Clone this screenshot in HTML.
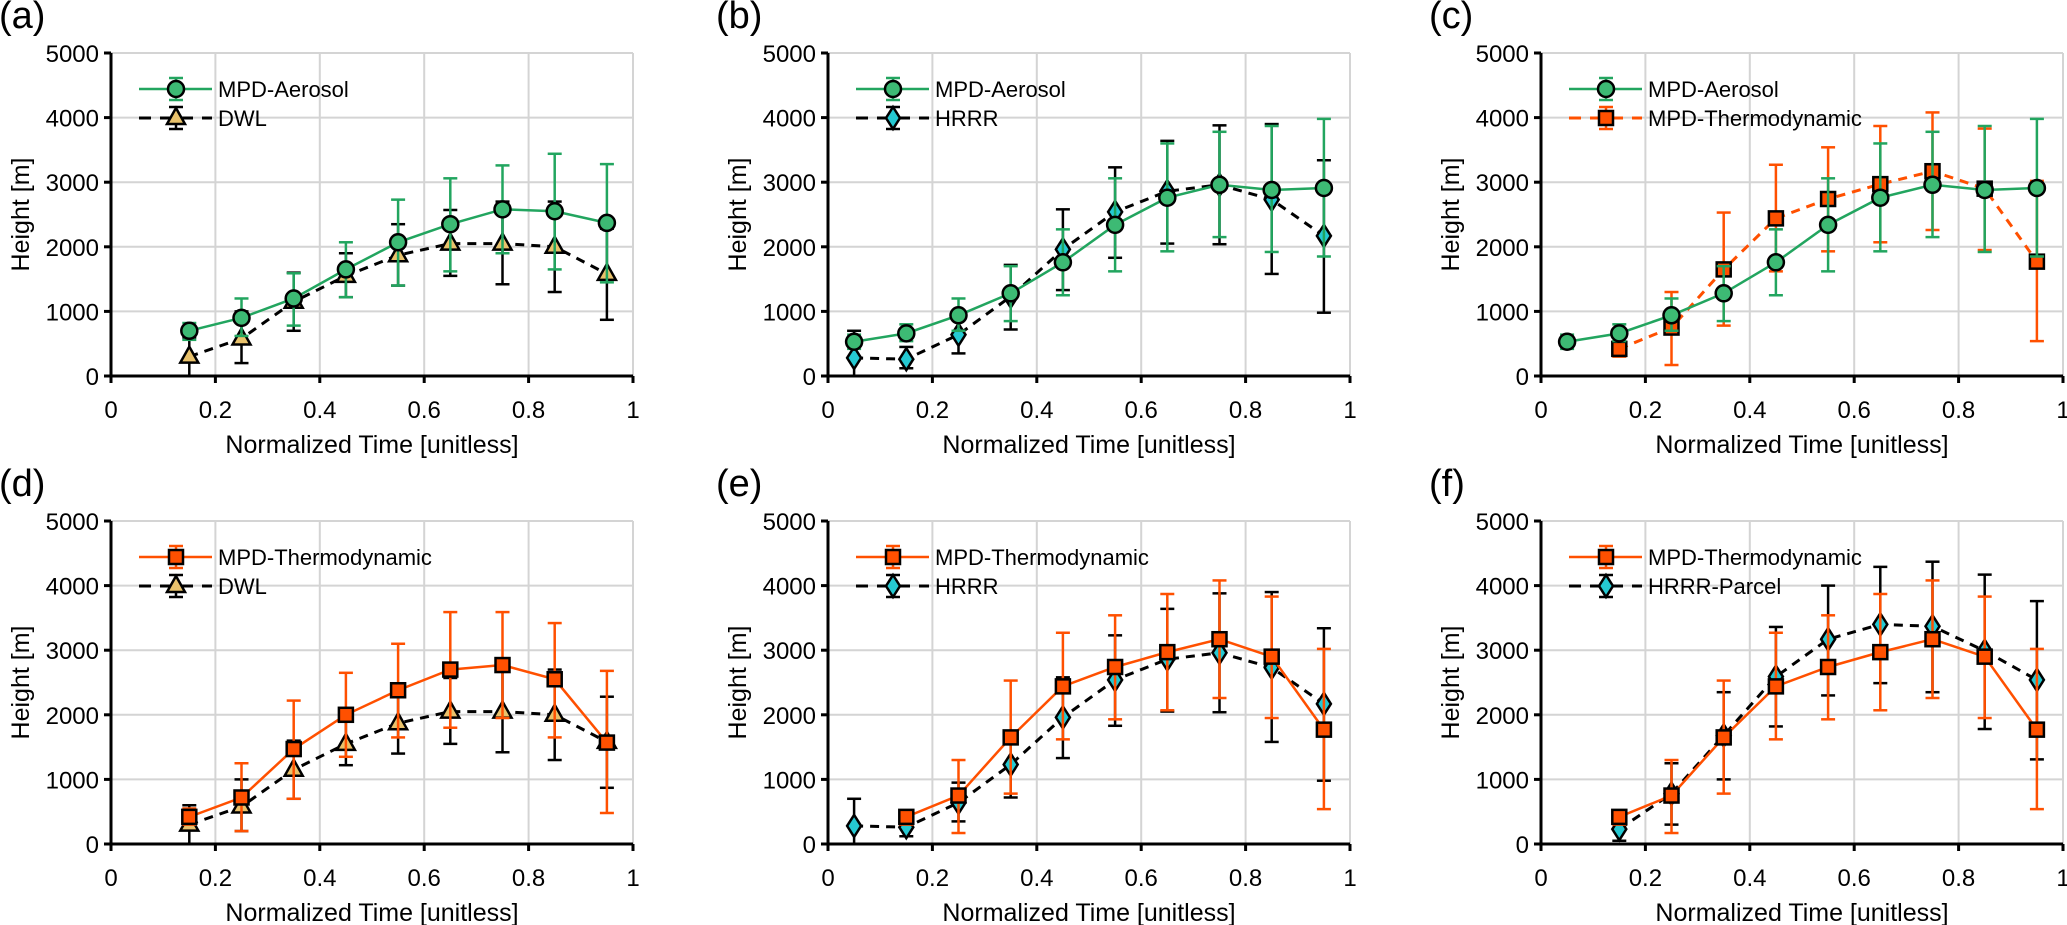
<!DOCTYPE html>
<html><head><meta charset="utf-8">
<style>
html,body{margin:0;padding:0;background:#fff;}
svg{display:block;font-family:"Liberation Sans",Arial,sans-serif;}
</style></head>
<body>
<svg id="fig" width="2067" height="925" viewBox="0 0 2067 925" xmlns="http://www.w3.org/2000/svg"></svg>
<script>
// ---- data ----
const xAll = [0.05,0.15,0.25,0.35,0.45,0.55,0.65,0.75,0.85,0.95];
const x9 = [0.15,0.25,0.35,0.45,0.55,0.65,0.75,0.85,0.95];
// MPD-Aerosol subset used with DWL (panel a)
const aerA = [700,900,1200,1650,2070,2350,2580,2550,2370];
const aerALo = [560,620,780,1220,1400,1620,1900,1650,1450];
const aerAHi = [820,1200,1590,2070,2730,3060,3260,3440,3280];
// DWL
const dwl = [300,580,1150,1550,1870,2050,2050,2000,1580];
const dwlLo = [0,200,700,1220,1400,1550,1420,1300,870];
const dwlHi = [600,1000,1600,1900,2350,2570,2700,2700,2280];
// MPD-Aerosol full (b, c)
const aerB = [530,660,940,1280,1760,2340,2760,2960,2880,2910];
const aerBLo = [420,540,700,850,1250,1620,1930,2150,1920,1850];
const aerBHi = [640,800,1200,1700,2270,3060,3600,3780,3870,3980];
// HRRR (b, e)
const hrrr = [280,260,640,1230,1960,2540,2860,2960,2730,2170];
const hrrrLo = [0,120,350,720,1330,1830,2050,2040,1580,980];
const hrrrHi = [700,450,950,1720,2580,3230,3640,3880,3900,3340];
// MPD-Thermodynamic (c, e, f)
const thC = [420,750,1650,2440,2740,2970,3170,2900,1770];
const thCLo = [300,170,780,1620,1930,2070,2260,1950,540];
const thCHi = [520,1300,2530,3270,3540,3870,4080,3830,3020];
// MPD-Thermodynamic subset (d)
const thD = [420,720,1470,2000,2380,2700,2770,2550,1570];
const thDLo = [300,200,700,1350,1650,1800,1950,1650,480];
const thDHi = [550,1250,2220,2650,3100,3590,3590,3420,2680];
// HRRR-Parcel (f)
const parcel = [230,780,1680,2590,3170,3400,3370,2990,2540];
const parcelLo = [50,300,1000,1820,2300,2490,2350,1780,1310];
const parcelHi = [400,1250,2350,3360,4000,4290,4370,4170,3760];
const xTicks = [0,0.2,0.4,0.6,0.8,1];
const xTickLabels = ["0","0.2","0.4","0.6","0.8","1"];
const yTicks = [0,1000,2000,3000,4000,5000];
const yTickLabels = ["0","1000","2000","3000","4000","5000"];

const NS="http://www.w3.org/2000/svg";
const svg=document.getElementById('fig');
function mk(tag,attrs,parent){const e=document.createElementNS(NS,tag);for(const k in attrs)e.setAttribute(k,attrs[k]);(parent||svg).appendChild(e);return e;}

const GREEN='#22a55f', GFILL='#3dba74', ORANGE='#ff5000', TRI='#e9c26c', DIA='#25c9d2';
const W=522, H=323;

const styles={
  aer:{name:'MPD-Aerosol',line:GREEN,dash:null,err:GREEN,marker:'circle',fill:GFILL},
  dwl:{name:'DWL',line:'#000',dash:'9,7',err:'#000',marker:'tri',fill:TRI},
  hrrr:{name:'HRRR',line:'#000',dash:'9,7',err:'#000',marker:'dia',fill:DIA},
  parcel:{name:'HRRR-Parcel',line:'#000',dash:'9,7',err:'#000',marker:'dia',fill:DIA},
  thS:{name:'MPD-Thermodynamic',line:ORANGE,dash:null,err:ORANGE,marker:'sq',fill:ORANGE},
  thD:{name:'MPD-Thermodynamic',line:ORANGE,dash:'9,7',err:ORANGE,marker:'sq',fill:ORANGE}
};

function marker(g,type,cx,cy,fill){
  let e;
  if(type==='circle') e=mk('circle',{cx:cx,cy:cy,r:8,fill:fill,stroke:'#000','stroke-width':2.5},g);
  else if(type==='sq') e=mk('rect',{x:cx-7,y:cy-7,width:14,height:14,fill:fill,stroke:'#000','stroke-width':2.5},g);
  else if(type==='tri') e=mk('polygon',{points:`${cx},${cy-10} ${cx-9},${cy+6} ${cx+9},${cy+6}`,fill:fill,stroke:'#000','stroke-width':2.5},g);
  else e=mk('polygon',{points:`${cx},${cy-11} ${cx+7},${cy} ${cx},${cy+11} ${cx-7},${cy}`,fill:fill,stroke:'#000','stroke-width':2.5},g);
  return e;
}

function drawSeries(g,sx,sy,st,xs,ys,lo,hi,key){
  const sg=mk('g',{},g);
  
  
  xs.forEach((x,i)=>{
    const px=sx(x);
    const eb=mk('g',{stroke:st.err,'stroke-width':2.5},sg);
    
    
    mk('line',{x1:px,x2:px,y1:sy(lo[i]),y2:sy(hi[i])},eb);
    mk('line',{x1:px-7,x2:px+7,y1:sy(lo[i]),y2:sy(lo[i])},eb);
    mk('line',{x1:px-7,x2:px+7,y1:sy(hi[i]),y2:sy(hi[i])},eb);
  });
  const pts=xs.map((x,i)=>sx(x)+','+sy(ys[i])).join(' ');
  const a={points:pts,fill:'none',stroke:st.line,'stroke-width':st.dash?3:2.5};
  if(st.dash)a['stroke-dasharray']=st.dash;
  const pl=mk('polyline',a,sg);
  
  
  xs.forEach((x,i)=>{
    const m=marker(sg,st.marker,sx(x),sy(ys[i]),st.fill);
    
    
  });
}

function legendEntry(g,x0,y,st,key){
  const lg=mk('g',{},g);
  
  
  const a={x1:x0+28,x2:x0+101,y1:y,y2:y,stroke:st.line,'stroke-width':st.dash?3:2.5};
  if(st.dash)a['stroke-dasharray']='12,9';
  mk('line',a,lg);
  const mx=x0+65;
  const eb=mk('g',{stroke:st.err,'stroke-width':2.5},lg);
  mk('line',{x1:mx,x2:mx,y1:y-11,y2:y+11},eb);
  mk('line',{x1:mx-7,x2:mx+7,y1:y-11,y2:y-11},eb);
  mk('line',{x1:mx-7,x2:mx+7,y1:y+11,y2:y+11},eb);
  marker(lg,st.marker,mx,y,st.fill);
  const t=mk('text',{x:x0+107,y:y+8,'font-size':22,fill:'#000'},lg);
  t.textContent=st.name;
}

function panel(label,x0,y0,series){
  const g=mk('g',{});
  
  
  const sx=v=>x0+v*W, sy=v=>y0+H-v/5000*H;
  const lab=mk('text',{x:x0-112,y:y0-25,'font-size':38,fill:'#000'},g);
  lab.textContent='('+label+')';
  
  
  const grid=mk('g',{stroke:'#d4d4d4','stroke-width':2},g);
  
  
  xTicks.forEach(t=>{ if(t>0) mk('line',{x1:sx(t),x2:sx(t),y1:sy(0),y2:sy(5000)},grid);});
  yTicks.forEach(t=>{ if(t>0) mk('line',{x1:sx(0),x2:sx(1),y1:sy(t),y2:sy(t)},grid);});
  const ax=mk('g',{stroke:'#000','stroke-width':3},g);
  
  
  mk('line',{x1:sx(0),x2:sx(0),y1:sy(0)+1.5,y2:sy(5000)},ax);
  mk('line',{x1:sx(0)-1.5,x2:sx(1),y1:sy(0),y2:sy(0)},ax);
  xTicks.forEach((t,i)=>{
    mk('line',{x1:sx(t),x2:sx(t),y1:sy(0),y2:sy(0)+7},ax);
    const tl=mk('text',{x:sx(t),y:sy(0)+42,'font-size':24,'text-anchor':'middle',fill:'#000'},g);
    tl.textContent=xTickLabels[i];
    
    
  });
  yTicks.forEach((t,i)=>{
    mk('line',{x1:sx(0)-7,x2:sx(0),y1:sy(t),y2:sy(t)},ax);
    const tl=mk('text',{x:sx(0)-12,y:sy(t)+9,'font-size':24,'text-anchor':'end',fill:'#000'},g);
    tl.textContent=yTickLabels[i];
    
    
  });
  const xt=mk('text',{x:sx(0.5),y:sy(0)+77,'font-size':25,'text-anchor':'middle',fill:'#000'},g);
  xt.textContent='Normalized Time [unitless]';
  
  
  const yt=mk('text',{x:0,y:0,'font-size':25,'text-anchor':'middle',fill:'#000',transform:`translate(${x0-82},${y0+H/2}) rotate(-90)`},g);
  yt.textContent='Height [m]';
  
  
  series.forEach(s=>drawSeries(g,sx,sy,styles[s[0]],s[1],s[2],s[3],s[4],s[0]));
  const leg=[...series].reverse();
  leg.forEach((s,i)=>legendEntry(g,x0,y0+36+i*29,styles[s[0]],s[0]));
}

panel('a',111,53,[['dwl',x9,dwl,dwlLo,dwlHi],['aer',x9,aerA,aerALo,aerAHi]]);
panel('b',828,53,[['hrrr',xAll,hrrr,hrrrLo,hrrrHi],['aer',xAll,aerB,aerBLo,aerBHi]]);
panel('c',1541,53,[['thD',x9,thC,thCLo,thCHi],['aer',xAll,aerB,aerBLo,aerBHi]]);
panel('d',111,521,[['dwl',x9,dwl,dwlLo,dwlHi],['thS',x9,thD,thDLo,thDHi]]);
panel('e',828,521,[['hrrr',xAll,hrrr,hrrrLo,hrrrHi],['thS',x9,thC,thCLo,thCHi]]);
panel('f',1541,521,[['parcel',x9,parcel,parcelLo,parcelHi],['thS',x9,thC,thCLo,thCHi]]);
</script>
</body></html>
